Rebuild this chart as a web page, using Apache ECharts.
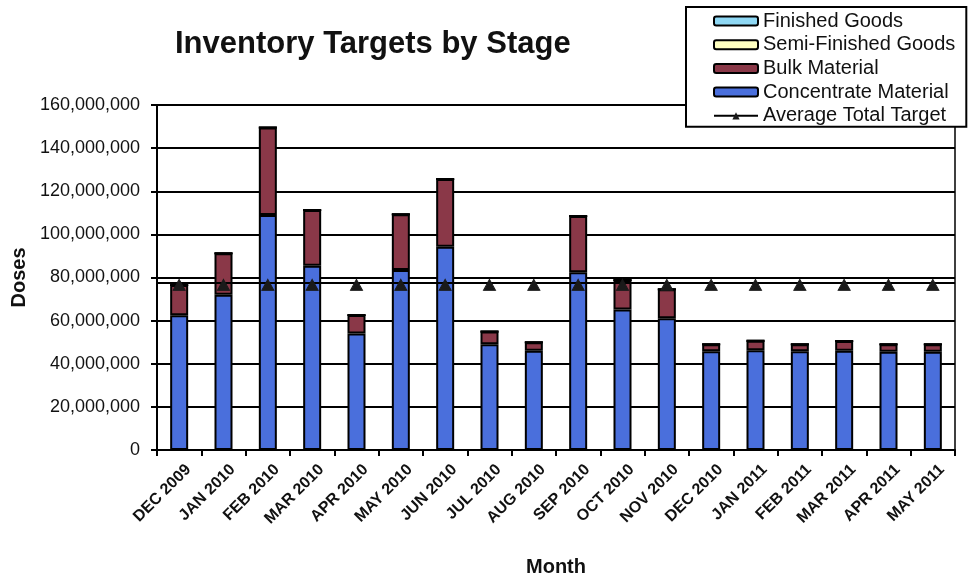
<!DOCTYPE html>
<html>
<head>
<meta charset="utf-8">
<title>Inventory Targets by Stage</title>
<script src="https://cdn.jsdelivr.net/npm/echarts@6/dist/echarts.min.js"></script>
<style>
  html, body { margin: 0; padding: 0; background: #ffffff; }
  #chart { width: 970px; height: 579px; }
</style>
</head>
<body>
<div id="chart"></div>
<script>
// Months on the category axis
const months = ['DEC 2009', 'JAN 2010', 'FEB 2010', 'MAR 2010', 'APR 2010', 'MAY 2010',
  'JUN 2010', 'JUL 2010', 'AUG 2010', 'SEP 2010', 'OCT 2010', 'NOV 2010',
  'DEC 2010', 'JAN 2011', 'FEB 2011', 'MAR 2011', 'APR 2011', 'MAY 2011'];

// Inventory targets per stage, in doses
const concentrateMaterial = [62500000, 72000000, 109000000, 85500000, 54000000, 83500000,
  94300000, 49000000, 46000000, 82400000, 65200000, 61100000,
  45800000, 46300000, 45800000, 46000000, 45600000, 45600000];
const bulkMaterial = [14000000, 19200000, 40600000, 25800000, 8600000, 25800000,
  31400000, 5900000, 4000000, 26100000, 13600000, 13400000,
  3200000, 4400000, 3200000, 4600000, 3400000, 3400000];
const semiFinishedGoods = [0, 0, 0, 0, 0, 0, 0, 0, 0, 0, 0, 0, 0, 0, 0, 0, 0, 0];
const finishedGoods = [0, 0, 0, 0, 0, 0, 0, 0, 0, 0, 0, 0, 0, 0, 0, 0, 0, 0];
const averageTotalTarget = [77500000, 77500000, 77500000, 77500000, 77500000, 77500000,
  77500000, 77500000, 77500000, 77500000, 77500000, 77500000,
  77500000, 77500000, 77500000, 77500000, 77500000, 77500000];

// Value axis ticks
const yMin = 0;
const yMax = 160000000;
const yStep = 20000000;

const FONT = "'Liberation Sans', Arial, sans-serif";

function withCommas(v) {
  return String(Math.round(v)).replace(/\B(?=(\d{3})+(?!\d))/g, ',');
}

const chart = echarts.init(document.getElementById('chart'), null, { renderer: 'canvas' });

const barBorder = { borderColor: '#000000', borderWidth: 2 };

chart.setOption({
  animation: false,
  backgroundColor: '#ffffff',
  title: {
    text: 'Inventory Targets by Stage',
    left: 175,
    top: 29,
    padding: 0,
    textStyle: { fontFamily: FONT, fontSize: 31, fontWeight: 'bold', color: '#111111' }
  },
  legend: {
    orient: 'vertical',
    left: 686,
    top: 7,
    padding: [4, 11, 1, 27],
    itemWidth: 44,
    itemHeight: 9,
    itemGap: 3.7,
    itemTextGap: 6,
    backgroundColor: '#ffffff',
    borderColor: '#000000',
    borderWidth: 2,
    borderRadius: 0,
    textStyle: { fontFamily: FONT, fontSize: 20, color: '#111111', lineHeight: 20 },
    data: ['Finished Goods', 'Semi-Finished Goods', 'Bulk Material', 'Concentrate Material', 'Average Total Target']
  },
  grid: {
    left: 157,
    right: 15,
    top: 105,
    bottom: 129,
    show: true,
    borderColor: '#000000',
    borderWidth: 1.5,
    containLabel: false,
    outerBoundsMode: 'none'
  },
  xAxis: {
    type: 'category',
    data: months,
    boundaryGap: true,
    name: 'Month',
    nameLocation: 'middle',
    nameGap: 117,
    nameTextStyle: { fontFamily: FONT, fontSize: 20, fontWeight: 'bold', color: '#111111', verticalAlign: 'middle' },
    axisLine: { show: true, lineStyle: { color: '#000000', width: 2 } },
    axisTick: { show: true, alignWithLabel: false, length: 6, lineStyle: { color: '#000000', width: 2 } },
    axisLabel: {
      interval: 0,
      rotate: 45,
      margin: 8,
      verticalAlign: 'top',
      padding: [5, 0, 0, 0],
      fontFamily: FONT,
      fontSize: 16,
      fontWeight: 'bold',
      color: '#111111'
    },
    splitLine: { show: false }
  },
  yAxis: {
    type: 'value',
    min: yMin,
    max: yMax,
    interval: yStep,
    name: 'Doses',
    nameLocation: 'middle',
    nameRotate: 90,
    nameGap: 124,
    nameTextStyle: { fontFamily: FONT, fontSize: 20, fontWeight: 'bold', color: '#111111' },
    axisLine: { show: true, lineStyle: { color: '#000000', width: 2 } },
    axisTick: { show: true, length: 6, lineStyle: { color: '#000000', width: 2 } },
    axisLabel: {
      margin: 17,
      fontFamily: FONT,
      fontSize: 18,
      color: '#111111',
      formatter: withCommas
    },
    splitLine: { show: true, lineStyle: { color: '#000000', width: 2 } }
  },
  series: [
    {
      name: 'Concentrate Material',
      type: 'bar',
      stack: 'stage',
      barWidth: 18,
      data: concentrateMaterial,
      itemStyle: Object.assign({ color: '#4a6fdc' }, barBorder)
    },
    {
      name: 'Bulk Material',
      type: 'bar',
      stack: 'stage',
      barWidth: 18,
      data: bulkMaterial,
      itemStyle: Object.assign({ color: '#8a3848' }, barBorder)
    },
    {
      name: 'Semi-Finished Goods',
      type: 'bar',
      stack: 'stage',
      barWidth: 18,
      data: semiFinishedGoods,
      itemStyle: Object.assign({ color: '#ffffc0' }, barBorder)
    },
    {
      name: 'Finished Goods',
      type: 'bar',
      stack: 'stage',
      barWidth: 18,
      data: finishedGoods,
      itemStyle: Object.assign({ color: '#8fd8f4' }, barBorder)
    },
    {
      name: 'Average Total Target',
      type: 'line',
      data: averageTotalTarget,
      symbol: 'triangle',
      symbolSize: [12, 11],
      symbolOffset: [0, 2],
      lineStyle: { color: '#000000', width: 2 },
      itemStyle: { color: '#1a1a1a', borderColor: '#1a1a1a' },
      z: 5,
      markLine: {
        silent: true,
        symbol: 'none',
        label: { show: false },
        lineStyle: { color: '#000000', width: 2, type: 'solid' },
        data: [{ yAxis: averageTotalTarget[0] }]
      }
    }
  ]
});
</script>
</body>
</html>
